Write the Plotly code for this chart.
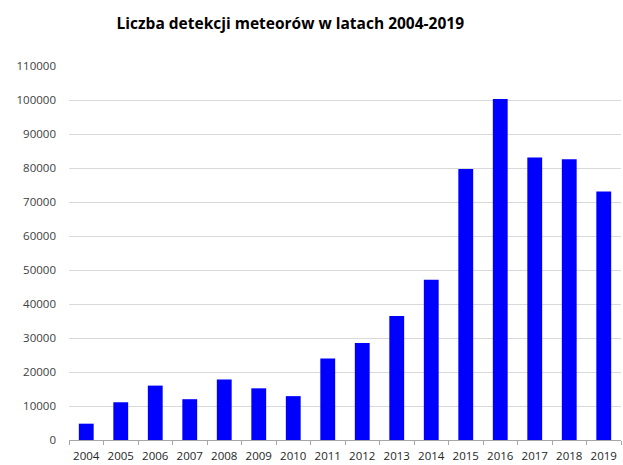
import plotly.graph_objects as go

years = ["2004", "2005", "2006", "2007", "2008", "2009", "2010", "2011",
         "2012", "2013", "2014", "2015", "2016", "2017", "2018", "2019"]
detections = [4800, 11100, 16000, 12000, 17800, 15200, 12900, 24000,
              28500, 36500, 47100, 79700, 100300, 83100, 82600, 73100]
y_ticks = list(range(0, 110001, 10000))

fig = go.Figure(go.Bar(x=years, y=detections, marker=dict(color="#0000FF", line=dict(width=0))))

fig.update_layout(
    width=623, height=465,
    margin=dict(l=69, r=2, t=66, b=25, autoexpand=False),
    paper_bgcolor="white", plot_bgcolor="white",
    bargap=0.57,
    showlegend=False,
    title=dict(text="<b>Liczba detekcji meteorów w latach 2004-2019</b>",
               x=0.466, xanchor="center", y=0.95, yanchor="middle",
               font=dict(family="Open Sans", size=15.5, color="#000000")),
    font=dict(family="Open Sans", size=11, color="#404040"),
)
fig.update_xaxes(
    type="category", showgrid=False, showline=True, linecolor="#a6a6a6", linewidth=1,
    ticks="outside", tickson="boundaries", ticklen=4, tickcolor="#a6a6a6",
    tickangle=0, automargin=False, ticklabelstandoff=5,
    tickfont=dict(family="Open Sans", size=11.5, color="#262626"),
)
fig.update_yaxes(
    range=[0, 110000], tickvals=y_ticks, ticktext=[str(v) for v in y_ticks],
    showgrid=True, gridcolor="#d9d9d9", gridwidth=1, zeroline=False,
    showline=False, ticks="", ticklabelstandoff=12, automargin=False,
    tickfont=dict(size=11.5, color="#404040"),
)

fig.write_html("out.html")
